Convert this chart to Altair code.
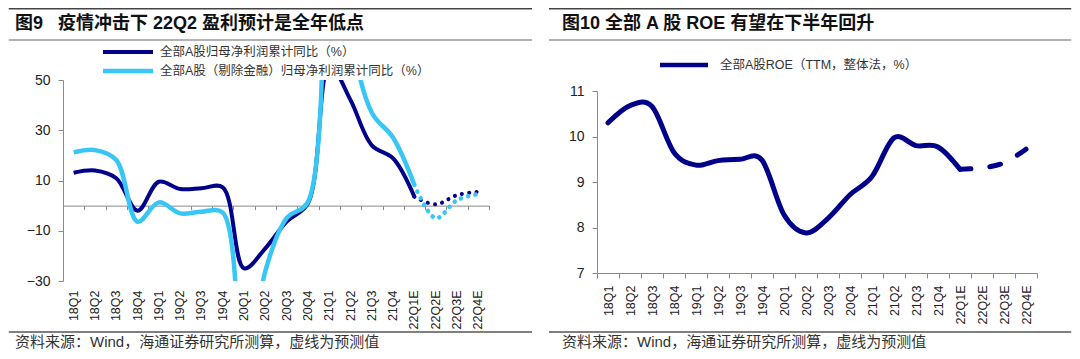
import altair as alt
import pandas as pd

# ---------------- data ----------------
quarters = ["18Q1", "18Q2", "18Q3", "18Q4", "19Q1", "19Q2", "19Q3", "19Q4",
            "20Q1", "20Q2", "20Q3", "20Q4", "21Q1", "21Q2", "21Q3", "21Q4",
            "22Q1E", "22Q2E", "22Q3E", "22Q4E"]
profit_all = [13.1, 14.0, 10.9, -2.0, 9.5, 6.6, 6.9, 7.3, -25.0, -17.0, -6.4, 0.9,
              56.0, 42.0, 24.0, 18.8, 3.5, 0.5, 4.2, 5.5]
profit_exfin = [21.2, 22.1, 18.2, -6.4, 1.3, -3.1, -2.4, -2.8, -75.0, -26.0, -5.0, 1.5,
                150.0, 70.0, 37.0, 27.0, 8.2, -5.0, 2.2, 4.6]
roe_ttm = [10.30, 10.68, 10.66, 9.65, 9.37, 9.47, 9.50, 9.48, 8.28, 7.88, 8.20, 8.72,
           9.12, 9.97, 9.80, 9.77, 9.28, 9.31, 9.42, 9.72]
n_actual = 17  # 18Q1 .. 22Q1E drawn solid, forecasts from 22Q1E on

y_ticks_left = [-30, -10, 10, 30, 50]
y_ticks_right = [7, 8, 9, 10, 11]

title_left = "图9\u00a0\u00a0\u00a0疫情冲击下 22Q2 盈利预计是全年低点"
title_right = "图10 全部 A 股 ROE 有望在下半年回升"
legend_left = ["全部A股归母净利润累计同比（%）", "全部A股（剔除金融）归母净利润累计同比（%）"]
legend_right = "全部A股ROE（TTM，整体法，%）"
source_text = "资料来源：Wind，海通证券研究所测算，虚线为预测值"

# ---------------- style ----------------
DARK = "#00008B"
LIGHT = "#38C6F6"
AXIS_GRAY = "#8a8a8a"
FONT = "Liberation Sans, Arial, Noto Sans CJK SC"
LW, LH = 426, 201
RW, RH = 440, 201

df_l = pd.DataFrame({"q": quarters, "all": profit_all, "exfin": profit_exfin})
df_r = pd.DataFrame({"q": quarters, "roe": roe_ttm})
one = pd.DataFrame({"k": [0]})


def hrule(x1, x2, y, color, w=1.5):
    return alt.Chart(one).mark_rule(color=color, strokeWidth=w).encode(
        x=alt.value(x1), x2=alt.value(x2), y=alt.value(y))


def label(txt, x, y, size, color="#222", weight="normal"):
    return alt.Chart(one).mark_text(
        text=txt, align="left", baseline="middle", font=FONT, fontSize=size,
        color=color, fontWeight=weight).encode(x=alt.value(x), y=alt.value(y))


# ---------------- left panel ----------------
xs_l = alt.Scale(type="band", domain=quarters, paddingInner=0, paddingOuter=0)
x_lab_l = alt.X("q:N", scale=xs_l, sort=quarters,
                axis=alt.Axis(title=None, orient="bottom", labelAngle=-90, domain=False,
                              ticks=False, tickSize=0, labelPadding=9, labelFont=FONT,
                              labelFontSize=12.5, labelColor="#222", labelOverlap=False,
                              grid=False))
ys_l = alt.Scale(domain=[-30, 50], nice=False, zero=False)
y_ax_l = alt.Axis(title=None, values=y_ticks_left, grid=False, domainColor=AXIS_GRAY,
                  tickColor=AXIS_GRAY, tickSize=5, labelPadding=8, labelFont=FONT,
                  labelFontSize=14, labelColor="#222")


def lline(df, field, color, width, dash=None):
    kw = dict(color=color, strokeWidth=width, interpolate="catmull-rom", clip=True)
    if dash:
        kw.update(strokeDash=dash, strokeCap="round")
    return alt.Chart(df).mark_line(**kw).encode(
        x=x_lab_l, y=alt.Y(f"{field}:Q", scale=ys_l, axis=y_ax_l))


act_l = df_l.iloc[:n_actual]
fc_l = df_l.iloc[n_actual - 1:]
lines_l = alt.layer(
    lline(act_l, "all", DARK, 4),
    lline(act_l, "exfin", LIGHT, 4.5),
    lline(fc_l, "all", DARK, 4, [0.1, 7.2]),
    lline(fc_l, "exfin", LIGHT, 4.5, [0.1, 7.2]),
)

zero_axis = alt.Chart(df_l).mark_point(opacity=0, clip=True).encode(
    x=alt.X("q:N", scale=xs_l, sort=quarters,
            axis=alt.Axis(title=None, orient="bottom", offset=-LH * 30 / 80, labels=False,
                          domain=True, ticks=True, tickBand="extent", tickSize=4,
                          domainColor=AXIS_GRAY, tickColor=AXIS_GRAY, grid=False)),
    y=alt.Y("all:Q", scale=ys_l, axis=y_ax_l),
)

deco_l = alt.layer(
    hrule(-54.25, 469, -71.25, "#444"),
    hrule(-54.25, 469, -40, "#999"),
    label(title_left, -48, -56, 18, "#111", "bold"),
    hrule(40, 90, -28, DARK, 4),
    hrule(40, 90, -9, LIGHT, 4.5),
    label(legend_left[0], 97, -28, 12.5, "#333"),
    label(legend_left[1], 97, -9, 12.5, "#333"),
    hrule(-54.25, 469, 252, "#555"),
    label(source_text, -48, 261.5, 15, "#333"),
)

left = alt.layer(lines_l, zero_axis, deco_l).resolve_axis(x="independent").properties(
    width=LW, height=LH)

# ---------------- right panel ----------------
xs_r = alt.Scale(type="band", domain=quarters, paddingInner=0, paddingOuter=0)
x_r = alt.X("q:N", scale=xs_r, sort=quarters,
            axis=alt.Axis(title=None, orient="bottom", labelAngle=-90, tickBand="extent",
                          tickSize=5, labelPadding=7, offset=-8, domainColor=AXIS_GRAY,
                          tickColor=AXIS_GRAY, labelFont=FONT, labelFontSize=12.5,
                          labelColor="#222", labelOverlap=False, grid=False))
ys_r = alt.Scale(domain=[7, 11], range=[193, 11], nice=False, zero=False)
y_r = alt.Y("roe:Q", scale=ys_r,
            axis=alt.Axis(title=None, values=y_ticks_right, grid=False, domainColor=AXIS_GRAY,
                          tickColor=AXIS_GRAY, tickSize=5, labelPadding=8, labelFont=FONT,
                          labelFontSize=14, labelColor="#222"))

roe_act = alt.Chart(df_r.iloc[:n_actual]).mark_line(
    color=DARK, strokeWidth=5, interpolate="cardinal", strokeCap="round").encode(x=x_r, y=y_r)
roe_fc = alt.Chart(df_r.iloc[n_actual - 1:]).mark_line(
    color=DARK, strokeWidth=5, interpolate="cardinal", strokeCap="round",
    strokeDash=[11, 19]).encode(x=x_r, y=y_r)

deco_r = alt.layer(
    hrule(-48, 474.25, -71.25, "#444"),
    hrule(-48, 474.25, -40, "#999"),
    label(title_right, -35, -56, 18, "#111", "bold"),
    hrule(63, 111, -15, DARK, 4.5),
    label(legend_right, 123, -15, 12.5, "#333"),
    hrule(-48, 474.25, 252, "#555"),
    label(source_text, -35, 261.5, 15, "#333"),
)

right = alt.layer(roe_act, roe_fc, deco_r).properties(width=RW, height=RH)

chart = alt.hconcat(left, right, spacing=108, bounds="flush").properties(
    padding=0, background="white"
).configure_view(stroke=None)

chart.save("out.html", embed_options={"renderer": "svg", "actions": False})
